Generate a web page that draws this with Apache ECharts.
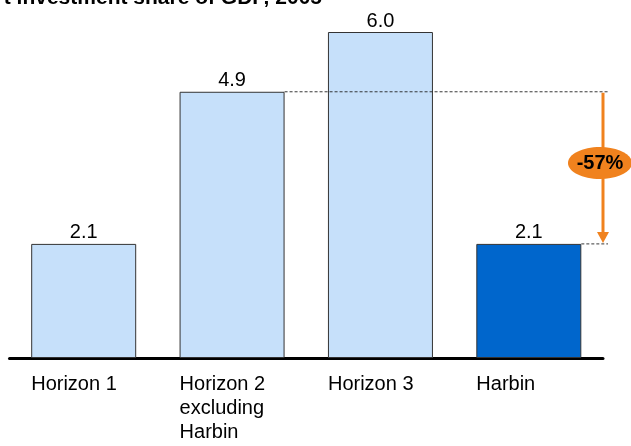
<!DOCTYPE html>
<html>
<head>
<meta charset="utf-8">
<script src="https://cdn.jsdelivr.net/npm/echarts@6/dist/echarts.min.js"></script>
<style>
  html, body { margin: 0; padding: 0; background: #fff; }
  #chart { width: 631px; height: 446px; }
</style>
</head>
<body>
<div id="chart"></div>
<script>
// Investment share of GDP by region, 2005
const categories = ['Horizon 1', 'Horizon 2\nexcluding\nHarbin', 'Horizon 3', 'Harbin'];
const shareValues = [2.1, 4.9, 6.0, 2.1];
const barColors = ['#C6E0FA', '#C6E0FA', '#C6E0FA', '#0066CC'];
const titleText = 't investment share of GDP, 2005';
const gapLabel = '-57%';

const FONT = '"Liberation Sans", Arial, sans-serif';
const BAR_W = 105;

const chart = echarts.init(document.getElementById('chart'), null, { renderer: 'canvas' });

chart.setOption({
  animation: false,
  backgroundColor: '#ffffff',
  grid: { left: 9.5, right: 28, top: 32, bottom: 88, containLabel: false },
  xAxis: {
    type: 'category',
    data: categories,
    axisLine: { show: true, lineStyle: { color: '#000', width: 3 } },
    axisTick: { show: false },
    axisLabel: { show: false },
    splitLine: { show: false }
  },
  yAxis: {
    type: 'value', min: 0, max: 6,
    show: false,
    splitLine: { show: false }
  },
  series: [{
    type: 'bar',
    barWidth: BAR_W,
    data: shareValues.map((v, i) => ({
      value: v,
      itemStyle: { color: barColors[i], borderColor: '#333', borderWidth: 1 }
    })),
    label: {
      show: true, position: 'top', distance: 1,
      fontFamily: FONT, fontSize: 20, color: '#000',
      formatter: p => p.value.toFixed(1)
    }
  }]
});

// Overlay: title, left-aligned category labels, reference lines and the gap arrow
const px = (i, v) => chart.convertToPixel({ seriesIndex: 0 }, [i, v]);
const g = [];

// title sits mostly above the top edge of the canvas
g.push({
  type: 'text', x: 322, y: 9, z: 20,
  style: { text: titleText, fontFamily: FONT, fontSize: 21, fontWeight: 'bold', fill: '#000',
           textAlign: 'right', textVerticalAlign: 'bottom' }
});

categories.forEach((c, i) => {
  const p = px(i, 0);
  g.push({
    type: 'text', x: p[0] - BAR_W / 2, y: 372, z: 20,
    style: { text: c, fontFamily: FONT, fontSize: 20, lineHeight: 24, fill: '#000', textVerticalAlign: 'top' }
  });
});

const hi = px(1, shareValues[1]);
const lo = px(3, shareValues[3]);
const xEnd = 608;
const arrowX = 603;

// dashed reference levels, drawn over the bars
g.push({
  type: 'line', z: 20, shape: { x1: hi[0] + BAR_W / 2, y1: hi[1], x2: xEnd, y2: hi[1] },
  style: { stroke: '#222', lineWidth: 0.9, lineDash: [3, 2] }
});
g.push({
  type: 'line', z: 20, shape: { x1: lo[0] + BAR_W / 2, y1: lo[1], x2: xEnd, y2: lo[1] },
  style: { stroke: '#222', lineWidth: 0.9, lineDash: [3, 2] }
});

// vertical arrow from the Horizon 2 level down to Harbin
g.push({
  type: 'line', z: 20, shape: { x1: arrowX, y1: hi[1] + 1, x2: arrowX, y2: lo[1] - 10 },
  style: { stroke: '#F0821E', lineWidth: 3 }
});
g.push({
  type: 'polygon', z: 20,
  shape: { points: [[arrowX - 6, lo[1] - 12], [arrowX + 6, lo[1] - 12], [arrowX, lo[1] - 1]] },
  style: { fill: '#F0821E' }
});

const midY = 163;
g.push({
  type: 'ellipse', z: 21, shape: { cx: 600, cy: midY, rx: 32, ry: 16 },
  style: { fill: '#F0821E' }
});
g.push({
  type: 'text', z: 22, x: 600, y: midY,
  style: { text: gapLabel, fontFamily: FONT, fontSize: 20, fontWeight: 'bold', fill: '#000',
           textAlign: 'center', textVerticalAlign: 'middle' }
});

chart.setOption({ graphic: g });
</script>
</body>
</html>
